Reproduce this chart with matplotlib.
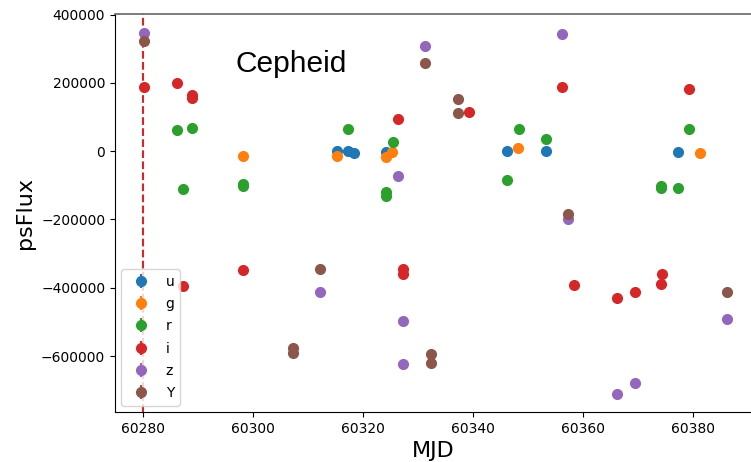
import matplotlib
matplotlib.use("Agg")
import matplotlib.pyplot as plt

# Лёгкая кривая цефеиды по фильтрам LSST
bands = ['u', 'g', 'r', 'i', 'z', 'Y']

mjd_u = [60315.2, 60317.2, 60318.4, 60324.2, 60346.2, 60353.2, 60377.3]
flux_u = [0, 0, -5000, -2000, 0, 0, -3000]

mjd_g = [60298.1, 60315.2, 60324.2, 60325.2, 60348.2, 60381.3]
flux_g = [-15000, -14000, -17000, -2000, 9000, -4000]

mjd_r = [60286.2, 60289.0, 60287.2, 60298.1, 60298.1, 60317.2, 60325.4, 60324.2,
         60324.2, 60348.4, 60346.2, 60353.2, 60379.2, 60374.1, 60374.1, 60377.3]
flux_r = [63000, 68000, -110000, -96000, -101000, 65000, 27000, -119000,
          -131000, 65000, -83000, 36000, 65000, -101000, -107000, -107000]

mjd_i = [60280.2, 60286.2, 60289.0, 60289.0, 60287.3, 60298.2, 60326.3, 60327.2,
         60327.2, 60339.3, 60356.2, 60358.4, 60366.2, 60369.4, 60374.3, 60374.1, 60379.2]
flux_i = [187000, 200000, 165000, 155000, -395000, -349000, 94000, -346000,
          -361000, 114000, 187000, -392000, -431000, -413000, -361000, -390000, 181000]

mjd_z = [60280.1, 60312.1, 60326.3, 60327.2, 60327.2, 60331.2, 60356.2, 60357.3,
         60366.2, 60369.4, 60386.2]
flux_z = [345000, -413000, -73000, -498000, -623000, 309000, 342000, -198000,
          -710000, -680000, -491000]

mjd_Y = [60280.1, 60307.2, 60307.2, 60312.1, 60331.2, 60332.3, 60332.3, 60337.2,
         60337.2, 60357.3, 60386.2]
flux_Y = [324000, -576000, -590000, -346000, 257000, -595000, -620000, 154000,
          111000, -184000, -413000]

flux_err = 4000
t_peak = 60280

mjds = [mjd_u, mjd_g, mjd_r, mjd_i, mjd_z, mjd_Y]
fluxes = [flux_u, flux_g, flux_r, flux_i, flux_z, flux_Y]

fig = plt.figure(figsize=(7.51, 4.62), dpi=100)
ax = fig.add_axes([0.153, 0.108, 0.847, 0.862])

for band, t, f in zip(bands, mjds, fluxes):
    ax.errorbar(t, f, yerr=flux_err, fmt='o', ms=7, label=band)

ax.axvline(t_peak, color='tab:red', ls='--', lw=1.5)

ax.set_xlim(60274.9, 60390.5)
ax.set_ylim(-764000, 402000)
ax.set_xticks([60280, 60300, 60320, 60340, 60360, 60380])
ax.set_yticks([-600000, -400000, -200000, 0, 200000, 400000])

ax.spines['right'].set_visible(False)
ax.spines['top'].set_color('#666666')
ax.spines['top'].set_linewidth(1.2)

ax.set_xlabel('MJD', fontsize=16, labelpad=4)
ax.set_ylabel('psFlux', fontsize=16)
ax.text(0.189, 0.854, 'Cepheid', transform=ax.transAxes, fontsize=21.5,
        family='Liberation Sans', va='baseline')

ax.legend(loc='lower left', borderaxespad=0.45, labelspacing=0.6)

fig.savefig('out.png', dpi=100)
